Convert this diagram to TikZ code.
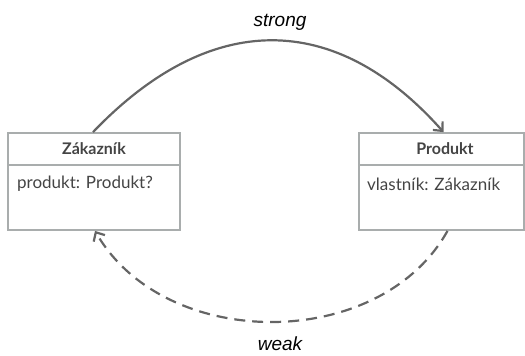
\documentclass[tikz,border=0pt]{standalone}
\usepackage{fontspec}
\setmainfont{Lato}
\newfontfamily\labelfont{Liberation Sans}
\usetikzlibrary{arrows.meta}
\definecolor{boxgray}{HTML}{A9ADAD}
\definecolor{arcgray}{HTML}{656565}
\definecolor{textgray}{HTML}{444444}
\tikzset{
  classbox/.style={draw=boxgray, line width=1.8pt, minimum height=97pt, inner sep=0pt},
  classtitle/.style={font=\fontsize{16}{19}\selectfont\bfseries, text=textgray, inner sep=0pt},
  classattr/.style={font=\fontsize{17}{20}\selectfont, text=textgray, inner sep=0pt, anchor=west},
  relation/.style={draw=arcgray, line width=2.2pt, -{Straight Barb[length=7pt,width=13pt,line width=2.2pt]}},
  weakrel/.style={relation, dash pattern=on 11pt off 7pt},
  rellabel/.style={font=\labelfont\itshape\fontsize{19}{22}\selectfont, inner sep=0pt}
}
\begin{document}
\begin{tikzpicture}[x=1pt,y=-1pt]
\useasboundingbox (0,0) rectangle (525,356);
% class Zakaznik
\node[classbox, minimum width=172pt] (zak) at (94,181.5) {};
\draw[boxgray, line width=1.8pt] (zak.west |- 0,165) -- (zak.east |- 0,165);
\node[classtitle] (zaktitle) at (94,149) {Zákazník};
\node[classattr] (zakattr) at (17,184) {produkt: Produkt?};
% class Produkt
\node[classbox, minimum width=165pt] (prod) at (441.5,181.5) {};
\draw[boxgray, line width=1.8pt] (prod.west |- 0,165) -- (prod.east |- 0,165);
\node[classtitle] (prodtitle) at (445,149) {Produkt};
\node[classattr] (prodattr) at (367,184) {vlastník: Zákazník};
% relations
\draw[relation] ([xshift=-1pt]zak.north) .. controls (210,10) and (335,10) .. ([xshift=2pt]prod.north);
\draw[weakrel] ([xshift=6pt]prod.south) .. controls (380,352) and (165,352) .. ([xshift=1pt]zak.south);
\node[rellabel] (strong) at (280,22) {strong};
\node[rellabel] (weak) at (280,344) {weak};
\end{tikzpicture}
\end{document}
